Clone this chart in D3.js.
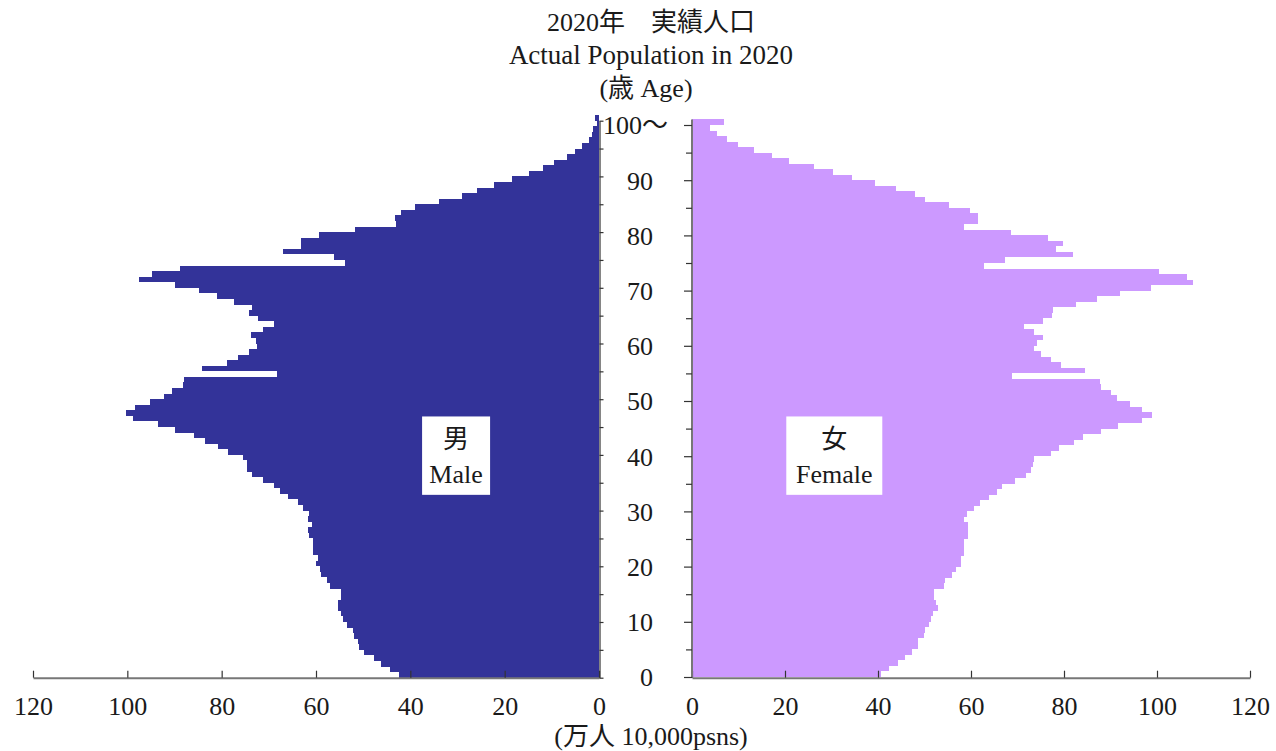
<!DOCTYPE html>
<html>
<head>
<meta charset="utf-8">
<script src="https://cdn.jsdelivr.net/npm/d3@7"></script>
<style>
  html, body { margin: 0; padding: 0; background: #fff; }
  svg { display: block; }
  text { font-family: "Liberation Serif", "Noto Sans CJK JP", serif; fill: #1a1a1a; }
</style>
</head>
<body>
<svg id="chart" width="1276" height="751"></svg>
<script>
// ---- data (万人), index = age 0..100 (100 = 100歳以上) ----
const ages = d3.range(0, 101);
const male = [
  42.3, 44.3, 46.2, 47.6, 49.8, 50.8, 51.0, 52.0, 52.2, 53.5,
  54.2, 54.6, 55.4, 55.3, 54.8, 54.8, 57.0, 57.7, 58.9, 59.1,
  59.9, 59.5, 60.6, 60.7, 60.7, 61.4, 61.6, 60.8, 61.8, 61.5,
  62.8, 63.9, 66.0, 67.6, 68.9, 71.2, 73.6, 74.6, 74.7, 75.4,
  78.7, 80.7, 83.6, 85.8, 89.8, 93.4, 98.8, 100.2, 98.4, 95.3,
  92.2, 90.6, 88.3, 88.0, 68.3, 84.2, 78.8, 76.6, 74.1, 72.6,
  72.8, 73.8, 71.3, 69.0, 72.2, 74.1, 73.6, 77.4, 80.9, 84.8,
  89.8, 97.5, 94.8, 88.8, 53.8, 56.1, 66.9, 63.2, 63.2, 59.4,
  51.8, 43.0, 43.2, 41.9, 39.0, 33.9, 29.0, 25.9, 22.3, 18.4,
  14.8, 11.9, 9.5, 6.8, 5.1, 3.5, 2.2, 1.5, 1.2, 0.5,
  0.8
];
const female = [
  40.7, 42.3, 44.3, 45.7, 47.3, 48.7, 48.6, 49.8, 50.0, 51.0,
  51.4, 51.8, 52.8, 52.5, 52.1, 52.1, 54.1, 54.5, 56.0, 56.7,
  57.8, 57.8, 58.5, 58.5, 58.4, 59.3, 59.3, 59.3, 58.4, 59.1,
  60.6, 61.9, 63.8, 65.6, 66.7, 69.5, 71.9, 72.9, 73.3, 73.6,
  77.1, 79.0, 82.1, 84.1, 88.0, 91.6, 96.8, 98.9, 96.8, 94.3,
  91.4, 90.2, 88.0, 87.7, 68.8, 84.6, 79.4, 77.3, 75.0, 73.6,
  74.2, 75.5, 73.6, 71.5, 75.4, 77.4, 77.6, 82.6, 87.1, 92.0,
  98.7, 107.7, 106.5, 100.5, 62.7, 67.4, 81.9, 78.3, 79.8, 76.5,
  68.7, 58.6, 61.4, 61.4, 59.8, 55.3, 50.2, 48.0, 43.9, 39.4,
  34.4, 30.3, 26.2, 20.8, 17.1, 13.4, 9.9, 7.5, 5.4, 3.8,
  6.9
];
const xTicks = [0, 20, 40, 60, 80, 100, 120];
const ageTicks = d3.range(0, 101, 5);
const ageLabels = [0, 10, 20, 30, 40, 50, 60, 70, 80, 90, 100];
const titleLines = ["2020年\u3000実績人口", "Actual Population in 2020", "(歳 Age)"];
const unitLabel = "(万人 10,000psns)";
const maleLabel = ["男", "Male"];
const femaleLabel = ["女", "Female"];

// ---- scales ----
const FS = 26;
const xM = d3.scaleLinear().domain([0, 120]).range([599, 33]);
const xF = d3.scaleLinear().domain([0, 120]).range([692, 1250]);
const yM = d3.scaleLinear().domain([0, 100]).range([677.7, 120.7]);
const yF = d3.scaleLinear().domain([0, 100]).range([677, 125]);

const svg = d3.select("#chart");

// ---- bars ----
svg.append("g").selectAll("rect").data(ages).join("rect")
  .attr("x", a => xM(male[a]))
  .attr("width", a => xM(0) - xM(male[a]))
  .attr("y", a => yM(a + 1))
  .attr("height", a => yM(a) - yM(a + 1))
  .attr("fill", "#333399")
  .attr("shape-rendering", "crispEdges");

svg.append("g").selectAll("rect").data(ages).join("rect")
  .attr("x", xF(0))
  .attr("width", a => xF(female[a]) - xF(0))
  .attr("y", a => yF(a + 1))
  .attr("height", a => yF(a) - yF(a + 1))
  .attr("fill", "#cc99ff")
  .attr("shape-rendering", "crispEdges");

// ---- bottom axes ----
function styleX(g) {
  g.select(".domain").attr("stroke", "#777").attr("stroke-width", 2);
  g.selectAll(".tick line").attr("stroke", "#333").attr("stroke-width", 1.2);
  g.selectAll(".tick text").attr("font-size", FS).attr("font-family", "Liberation Serif").attr("fill", "#1a1a1a");
}
svg.append("g").attr("transform", "translate(0,677.7)")
  .call(d3.axisBottom(xM).tickValues(xTicks).tickSizeInner(-7).tickSizeOuter(0).tickPadding(18.5))
  .call(styleX);
svg.append("g").attr("transform", "translate(0,677.7)")
  .call(d3.axisBottom(xF).tickValues(xTicks).tickSizeInner(-7).tickSizeOuter(0).tickPadding(18.5))
  .call(styleX);

// ---- vertical axes ----
const gM = svg.append("g").attr("transform", `translate(${xM(0) + 0.5},0)`)
  .call(d3.axisRight(yM).tickValues(ageTicks).tickSizeInner(4).tickSizeOuter(0).tickFormat(""));
gM.select(".domain").attr("stroke", "#333").attr("stroke-width", 1.2);
gM.selectAll(".tick line").attr("stroke", "#333").attr("stroke-width", 1.2);

const gF = svg.append("g").attr("transform", `translate(${xF(0)},0)`)
  .call(d3.axisLeft(yF).tickValues(ageTicks).tickSizeInner(8).tickSizeOuter(0).tickFormat(""));
gF.select(".domain").attr("stroke", "#777").attr("stroke-width", 2);
gF.selectAll(".tick line").attr("stroke", "#333").attr("stroke-width", 1.2)
  .attr("x2", d => d % 10 === 0 ? -8 : -6);
gF.select(".domain").attr("d", `M0,${yF(101)}V${yF(0)}`);

// age labels
svg.append("g").selectAll("text").data(ageLabels).join("text")
  .attr("x", d => d === 100 ? 603 : 653)
  .attr("y", d => yF(d))
  .attr("dy", "0.36em")
  .attr("text-anchor", d => d === 100 ? "start" : "end")
  .attr("font-size", FS)
  .text(d => d === 100 ? "100〜" : d);

// ---- titles ----
svg.append("g").selectAll("text").data(titleLines).join("text")
  .attr("x", (d, i) => i === 2 ? 646 : 651)
  .attr("y", (d, i) => 31 + i * 33)
  .attr("text-anchor", "middle")
  .attr("font-size", (d, i) => i === 1 ? 27 : FS)
  .text(d => d);

svg.append("text")
  .attr("x", 651).attr("y", 745)
  .attr("text-anchor", "middle")
  .attr("font-size", FS)
  .text(unitLabel);

// ---- sex labels ----
function sexBox(cx, w, lines) {
  const g = svg.append("g");
  const yTop = yF(47.2), yBot = yF(33);
  g.append("rect").attr("x", cx - w / 2).attr("y", yTop).attr("width", w).attr("height", yBot - yTop).attr("fill", "#fff");
  g.append("text").attr("x", cx).attr("y", yTop + 32).attr("text-anchor", "middle").attr("font-size", FS).text(lines[0]);
  g.append("text").attr("x", cx).attr("y", yTop + 67).attr("text-anchor", "middle").attr("font-size", FS).text(lines[1]);
}
sexBox(xM(30.3), 68, maleLabel);
sexBox(xF(30.6), 96, femaleLabel);
</script>
</body>
</html>
